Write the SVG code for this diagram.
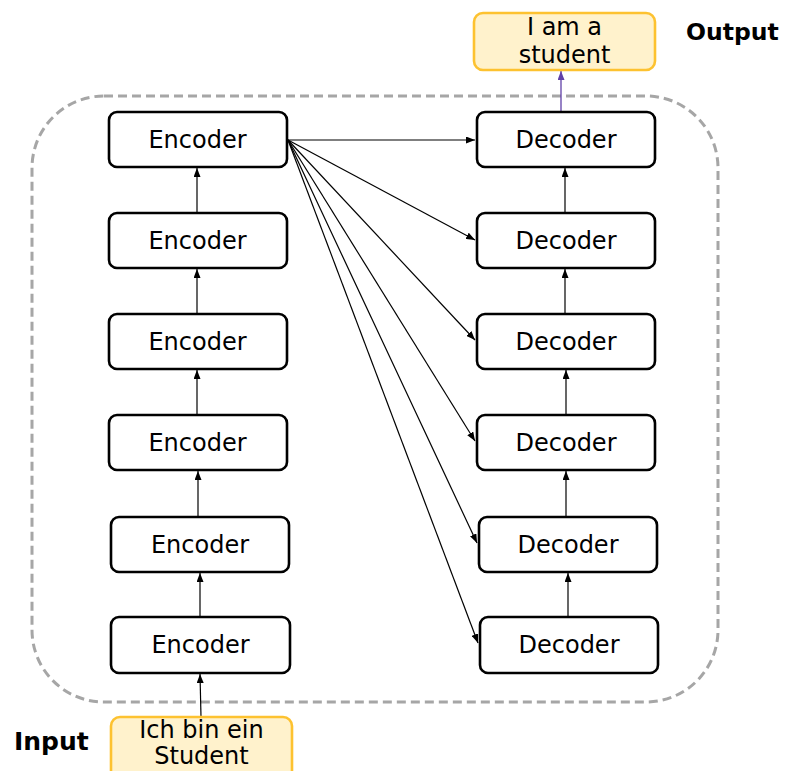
<svg xmlns="http://www.w3.org/2000/svg" width="787" height="771" viewBox="0 0 787 771">
  <style>
    .box { fill: #ffffff; stroke: #000000; stroke-width: 2.6; }
    .io { fill: #fff2cc; stroke: #fdc230; stroke-width: 2.6; }
    .lbl { font-family: "DejaVu Sans", Verdana, sans-serif; font-size: 24px; fill: #000000; text-anchor: middle; }
    .side { font-family: "DejaVu Sans", Verdana, sans-serif; font-size: 23.5px; font-weight: bold; fill: #000000; }
    .link { stroke: #000000; stroke-width: 1.2; fill: none; marker-end: url(#arrow); }
    .out { stroke: #6040a8; stroke-width: 1.3; fill: none; marker-end: url(#arrowP); }
    .frame { fill: none; stroke: #a6a6a6; stroke-width: 3; stroke-dasharray: 9 5; }
  </style>
  <defs>
    <marker id="arrow" markerUnits="userSpaceOnUse" markerWidth="9" markerHeight="7" refX="9" refY="3.5" orient="auto">
      <path d="M0,0 L9,3.5 L0,7 z" fill="#000000"/>
    </marker>
    <marker id="arrowP" markerUnits="userSpaceOnUse" markerWidth="9" markerHeight="7" refX="9" refY="3.5" orient="auto">
      <path d="M0,0 L9,3.5 L0,7 z" fill="#6040a8"/>
    </marker>
  </defs>

  <!-- dashed container around the stacks -->
  <rect class="frame" x="32" y="96" width="686" height="606" rx="72" ry="72"/>

  <!-- connectors -->
  <g id="connectors">
    <!-- encoder stack -->
    <line class="link" x1="201" y1="717" x2="200" y2="674"/>
    <line class="link" x1="200" y1="616" x2="200" y2="573"/>
    <line class="link" x1="198" y1="516" x2="198" y2="471"/>
    <line class="link" x1="197" y1="414" x2="197" y2="370"/>
    <line class="link" x1="197" y1="313" x2="197" y2="269"/>
    <line class="link" x1="197" y1="213" x2="197" y2="168"/>
    <!-- decoder stack -->
    <line class="link" x1="568" y1="617" x2="568" y2="573"/>
    <line class="link" x1="566" y1="516" x2="566" y2="471"/>
    <line class="link" x1="566" y1="414" x2="566" y2="370"/>
    <line class="link" x1="565" y1="313" x2="565" y2="269"/>
    <line class="link" x1="565" y1="213" x2="565" y2="168"/>
    <!-- top encoder fans out to every decoder -->
    <line class="link" x1="288" y1="140" x2="475" y2="140"/>
    <line class="link" x1="288" y1="140" x2="475" y2="240"/>
    <line class="link" x1="288" y1="140" x2="475" y2="340"/>
    <line class="link" x1="288" y1="140" x2="475" y2="441"/>
    <line class="link" x1="288" y1="140" x2="477" y2="543"/>
    <line class="link" x1="288" y1="140" x2="478" y2="643"/>
    <!-- decoder to output -->
    <line class="out" x1="561" y1="111" x2="561" y2="71"/>
  </g>

  <!-- encoders -->
  <g id="enc1"><rect class="box" x="109" y="112" width="178" height="55" rx="8"/><text class="lbl" x="197.5" y="148">Encoder</text></g>
  <g id="enc2"><rect class="box" x="109" y="213" width="178" height="55" rx="8"/><text class="lbl" x="197.5" y="249">Encoder</text></g>
  <g id="enc3"><rect class="box" x="109" y="314" width="178" height="55" rx="8"/><text class="lbl" x="197.5" y="350">Encoder</text></g>
  <g id="enc4"><rect class="box" x="109" y="415" width="178" height="55" rx="8"/><text class="lbl" x="197.5" y="451">Encoder</text></g>
  <g id="enc5"><rect class="box" x="111" y="517" width="178" height="55" rx="8"/><text class="lbl" x="200" y="553">Encoder</text></g>
  <g id="enc6"><rect class="box" x="111" y="617" width="179" height="56" rx="8"/><text class="lbl" x="200.5" y="653">Encoder</text></g>

  <!-- decoders -->
  <g id="dec1"><rect class="box" x="477" y="112" width="178" height="55" rx="8"/><text class="lbl" x="566" y="148">Decoder</text></g>
  <g id="dec2"><rect class="box" x="477" y="213" width="178" height="55" rx="8"/><text class="lbl" x="566" y="249">Decoder</text></g>
  <g id="dec3"><rect class="box" x="477" y="314" width="178" height="55" rx="8"/><text class="lbl" x="566" y="350">Decoder</text></g>
  <g id="dec4"><rect class="box" x="477" y="415" width="178" height="55" rx="8"/><text class="lbl" x="566" y="451">Decoder</text></g>
  <g id="dec5"><rect class="box" x="479" y="517" width="178" height="55" rx="8"/><text class="lbl" x="568" y="553">Decoder</text></g>
  <g id="dec6"><rect class="box" x="480" y="617" width="178" height="56" rx="8"/><text class="lbl" x="569" y="653">Decoder</text></g>

  <!-- output sentence -->
  <g id="output">
    <rect class="io" x="474" y="13" width="181" height="57" rx="9"/>
    <text class="lbl" x="564.5" y="35">I am a</text>
    <text class="lbl" x="564.5" y="63">student</text>
  </g>
  <text class="side" x="686" y="40">Output</text>

  <!-- input sentence -->
  <g id="input">
    <rect class="io" x="111" y="717" width="181" height="62" rx="9"/>
    <text class="lbl" x="201.5" y="738">Ich bin ein</text>
    <text class="lbl" x="201.5" y="764">Student</text>
  </g>
  <text class="side" x="14" y="750" style="font-size:25px">Input</text>
</svg>
